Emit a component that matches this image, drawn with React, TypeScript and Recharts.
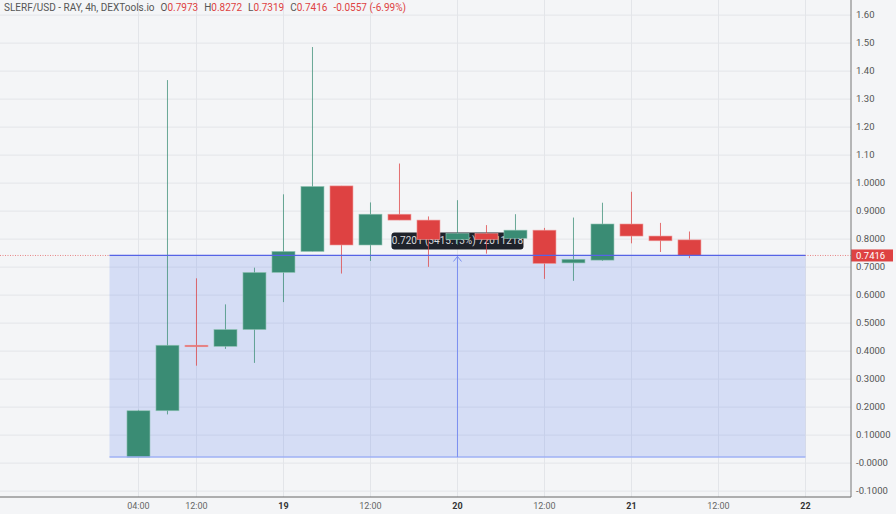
import React from 'react';
import { ComposedChart, Bar, XAxis, YAxis, CartesianGrid, ReferenceArea, ReferenceLine, ReferenceDot } from 'recharts';

// hours since 18th 00:00, one 4h candle each
const times = [4, 8, 12, 16, 20, 24, 28, 32, 36, 40, 44, 48, 52, 56, 60, 64, 68, 72, 76, 80];
const opens = [0.021, 0.187, 0.421, 0.417, 0.477, 0.681, 0.756, 0.99, 0.779, 0.889, 0.868, 0.799, 0.82, 0.803, 0.832, 0.715, 0.725, 0.854, 0.811, 0.7973];
const closes = [0.187, 0.421, 0.418, 0.477, 0.681, 0.756, 0.988, 0.779, 0.889, 0.868, 0.799, 0.82, 0.799, 0.832, 0.713, 0.728, 0.854, 0.811, 0.794, 0.7416];
const highs = [0.19, 1.368, 0.66, 0.567, 0.698, 0.96, 1.486, 0.99, 0.931, 1.07, 0.881, 0.939, 0.85, 0.889, 0.84, 0.877, 0.93, 0.969, 0.858, 0.8272];
const lows = [0.0205, 0.174, 0.348, 0.408, 0.358, 0.575, 0.756, 0.677, 0.722, 0.868, 0.701, 0.78, 0.748, 0.8, 0.658, 0.651, 0.722, 0.785, 0.754, 0.7319];

const xTicks = [4, 12, 24, 36, 48, 60, 72, 84, 96];
const xTickLabels = ['04:00', '12:00', '19', '12:00', '20', '12:00', '21', '12:00', '22'];

const yTicks = [1.6, 1.5, 1.4, 1.3, 1.2, 1.1, 1.0, 0.9, 0.8, 0.7, 0.6, 0.5, 0.4, 0.3, 0.2, 0.1, 0, -0.1];
const yTickLabels = ['1.60', '1.50', '1.40', '1.30', '1.20', '1.10', '1.0000', '0.9000', '0.8000', '0.7000', '0.6000', '0.5000', '0.4000', '0.3000', '0.2000', '0.10000', '-0.0000', '-0.1000'];

const lastPrice = 0.7416;
const measureFrom = 0.0215;
const measureStart = 0;
const measureEnd = 96;
const measureMid = 48;

const UP = '#3a8c74';
const DOWN = '#de4242';
const FONT = 'Roboto, "Noto Sans", sans-serif';

const data = times.map((t, i) => ({
  t,
  open: opens[i],
  close: closes[i],
  high: highs[i],
  low: lows[i],
  range: [lows[i], highs[i]],
}));

const Candle = (props: any) => {
  const { x, y, width, height, payload } = props;
  const { open, close, high, low } = payload;
  const k = height / (high - low);
  const py = (v: number) => y + (high - v) * k;
  const up = close >= open;
  const color = up ? UP : DOWN;
  const top = py(Math.max(open, close));
  const bot = py(Math.min(open, close));
  const cx = x + width / 2;
  return (
    <g>
      <line x1={cx} x2={cx} y1={y} y2={y + height} stroke={color} strokeOpacity={0.75} strokeWidth={1} />
      <rect
        x={x}
        y={top}
        width={width}
        height={Math.max(bot - top, 1.5)}
        fill={color}
        stroke={up ? '#8fc2b3' : '#ee9a9a'}
        strokeWidth={0.6}
      />
    </g>
  );
};

const XTick = (props: any) => {
  const { x, y, payload } = props;
  const i = xTicks.indexOf(payload.value);
  const label = xTickLabels[i] ?? '';
  const isDay = !label.includes(':');
  return (
    <text
      x={x}
      y={y + 12}
      textAnchor="middle"
      fontSize={9}
      fontFamily={FONT}
      fontWeight={isDay ? 700 : 400}
      fill={isDay ? '#333' : '#666'}
    >
      {label}
    </text>
  );
};

const yLabel = (v: number) => {
  const i = yTicks.findIndex((t) => Math.abs(t - v) < 1e-6);
  return i >= 0 ? yTickLabels[i] : '';
};

const PriceTag = (props: any) => {
  const vb = props.viewBox || {};
  const x0 = (vb.x ?? 0) + (vb.width ?? 0);
  const y0 = vb.y ?? 0;
  return (
    <g>
      <rect x={x0} y={y0 - 6} width={42} height={12} fill={DOWN} />
      <text x={x0 + 5} y={y0 + 3.5} fontSize={9.5} fontFamily={FONT} fill="#fff">
        {lastPrice.toFixed(4)}
      </text>
    </g>
  );
};

const MeasureLabel = (props: any) => {
  const { cx, cy } = props;
  return (
    <g>
      <rect x={cx - 66} y={cy - 8.5} width={132} height={17} rx={3} fill="#1f222b" />
      <text x={cx} y={cy + 3.5} textAnchor="middle" fontSize={10} fontFamily={FONT} fill="#d8d9dc">
        0.7201 (3415.13%) 72011218
      </text>
    </g>
  );
};

const ArrowHead = (props: any) => {
  const { cx, cy } = props;
  return <path d={`M${cx - 4},${cy + 6} L${cx},${cy + 1} L${cx + 4},${cy + 6}`} stroke="#7b8ff0" fill="none" strokeWidth={1} />;
};

const Header = () => (
  <div
    style={{
      position: 'absolute',
      left: 4,
      top: 2,
      fontFamily: FONT,
      fontSize: 10,
      color: '#555',
      whiteSpace: 'nowrap',
      display: 'flex',
      gap: 6,
    }}
  >
    <span>SLERF/USD - RAY, 4h, DEXTools.io</span>
    <span>O<span style={{ color: DOWN }}>0.7973</span></span>
    <span>H<span style={{ color: DOWN }}>0.8272</span></span>
    <span>L<span style={{ color: DOWN }}>0.7319</span></span>
    <span>C<span style={{ color: DOWN }}>0.7416</span></span>
    <span style={{ color: DOWN }}>-0.0557 (-6.99%)</span>
  </div>
);

export default function App() {
  return (
    <div style={{ position: 'absolute', left: 0, top: 0, width: 896, height: 514, background: '#f4f5f7' }}>
      <ComposedChart width={896} height={514} data={data} margin={{ top: 0, right: 0, left: 0, bottom: 0 }}>
        <CartesianGrid stroke="#e3e5e9" horizontalValues={yTicks} verticalValues={xTicks} />
        <XAxis
          dataKey="t"
          type="number"
          domain={[-15.1, 102.28]}
          allowDataOverflow
          ticks={xTicks}
          tick={<XTick />}
          tickLine={false}
          tickSize={0}
          tickMargin={0}
          axisLine={{ stroke: '#666' }}
          height={17}
        />
        <YAxis
          orientation="right"
          type="number"
          domain={[-0.121, 1.654]}
          allowDataOverflow
          ticks={yTicks}
          tickFormatter={yLabel}
          tick={{ fontSize: 9.5, fill: '#555', fontFamily: FONT, textAnchor: 'start' }}
          tickLine={false}
          tickSize={0}
          tickMargin={5}
          axisLine={{ stroke: '#777' }}
          width={45}
        />
        <ReferenceArea x1={measureStart} x2={measureEnd} y1={measureFrom} y2={lastPrice} fill="#5b7cf0" fillOpacity={0.2} stroke="none" />
        <ReferenceLine
          segment={[{ x: measureStart, y: measureFrom }, { x: measureEnd, y: measureFrom }]}
          stroke="#9fb0f5"
          strokeWidth={1.5}
        />
        <ReferenceLine
          segment={[{ x: measureMid, y: measureFrom }, { x: measureMid, y: lastPrice }]}
          stroke="#7b8ff0"
          strokeWidth={1}
        />
        <ReferenceDot x={measureMid} y={0.7935} r={0} shape={<MeasureLabel />} {...({ zIndex: 250 } as any)} />
        <Bar dataKey="range" barSize={23} shape={<Candle />} isAnimationActive={false} />
        <ReferenceLine y={lastPrice} stroke="#e46a6a" strokeOpacity={0.8} strokeDasharray="1 1.5" strokeWidth={1} label={<PriceTag />} />
        <ReferenceLine
          segment={[{ x: measureStart, y: lastPrice }, { x: measureEnd, y: lastPrice }]}
          stroke="#5563e6"
          strokeWidth={1.2}
        />
        <ReferenceDot x={measureMid} y={lastPrice} r={0} shape={<ArrowHead />} />
      </ComposedChart>
      <Header />
    </div>
  );
}
